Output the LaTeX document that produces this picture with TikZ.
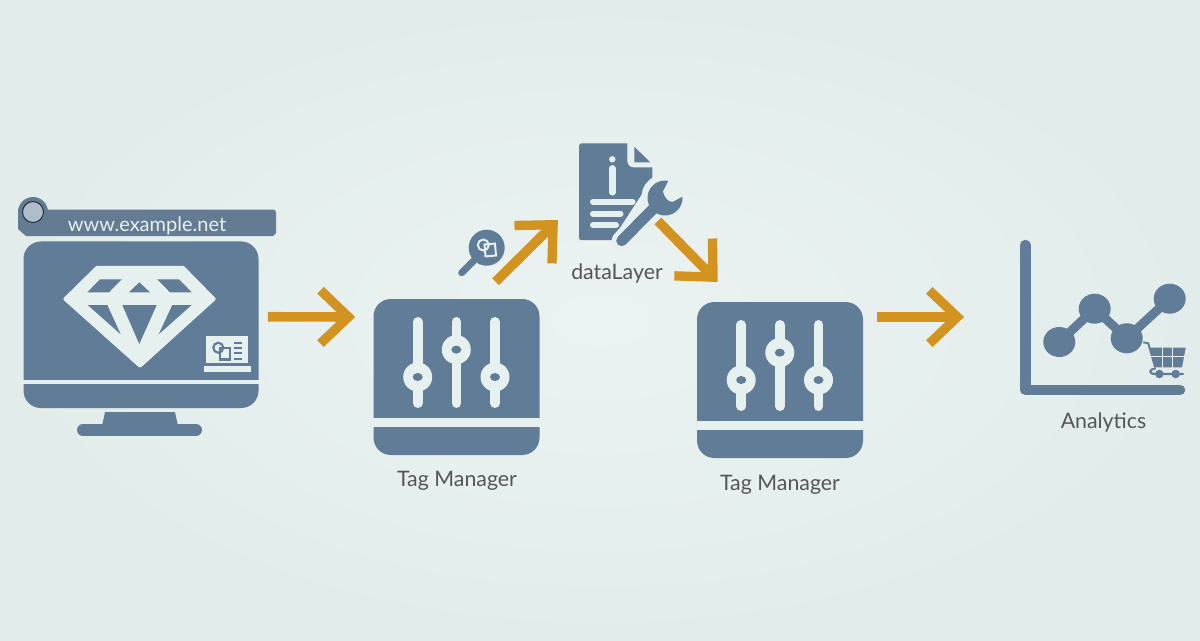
\documentclass[tikz,border=0pt]{standalone}
\usepackage{fontspec}
\setmainfont{Lato}
\usepackage{xcolor}
\usetikzlibrary{arrows.meta}

\definecolor{slate}{HTML}{607C96}
\definecolor{pale}{HTML}{E6F0EF}
\definecolor{amber}{HTML}{D29321}
\definecolor{labelgrey}{HTML}{555555}
\definecolor{bginner}{HTML}{EBF3F2}
\definecolor{bgouter}{HTML}{E2EDEB}

\tikzset{
  panel/.style={fill=slate,inner sep=0pt,rounded corners=13pt},
  flowarrow/.style={draw=amber,line width=7.2pt,-{Straight Barb[length=21pt,width=40pt,line width=7pt]}},
  caption/.style={text=labelgrey,font=\fontsize{16}{18}\selectfont,inner sep=0.75pt},
  tagmanager/.pic={
    \foreach \sx/\sy in {-38.8/0,-0.2/27.4,38.5/0} {
      \draw [pale,line width=7.2pt,line cap=round] (\sx,55.2) -- (\sx,-26.2);
      \fill [pale] (\sx,\sy) circle (14.5);
      \fill [slate] (\sx,\sy) ellipse (5 and 4);
    }
    \fill [pale] (-84,-40.5) rectangle (84,-50);
  }
}

\begin{document}
\begin{tikzpicture}[x=0.75pt,y=0.75pt,yscale=-1,xscale=1]

% backdrop
\shade [inner color=bginner,outer color=bgouter] (0,0) rectangle (1200,640);

% site
\fill [slate!88!gray] (18,209.5) -- (274,209.5) to[out=0,in=90] (276,212) -- (276,233) -- (273,236) -- (26,236) -- (18,229) -- cycle;
\fill [slate!88!gray] (33,212) circle (15);
\draw [fill=slate!50!white,draw=slate!40!black,line width=0.8pt] (33,212) circle (10.5);
\node [text=pale,font=\fontsize{15}{18}\selectfont,inner sep=0.75pt] (siteurl) at (147,225.5) {www.example.net};

\node [panel,minimum width=176.25pt,minimum height=124.9pt] (screen) at (141,324.75) {};
\fill [pale] (20,380) rectangle (262,383.5);
\fill [slate] (105,412) -- (175,412) -- (178,426) -- (102,426) -- cycle;
\draw [slate,line width=9pt,line cap=round] (83,430) -- (196,430);

\draw [fill=pale,draw=pale,line width=2.5pt,line join=round] (97,267.5) -- (183,267.5) -- (214,299) -- (140,366) -- (65,299) -- cycle;
\fill [slate] (87.3,292.3) -- (100,279.3) -- (121.7,279.3) -- (109,292.3) -- cycle;
\fill [slate] (129,292.3) -- (139.3,282.3) -- (150,292.3) -- cycle;
\fill [slate] (157.3,279.3) -- (179,279.3) -- (191.7,292.3) -- (170,292.3) -- cycle;
\fill [slate] (87.7,305) -- (107.3,305) -- (120.7,334.3) -- cycle;
\fill [slate] (122.3,305) -- (156.7,305) -- (139.3,344) -- cycle;
\fill [slate] (172.3,305) -- (191.7,305) -- (158.7,334.3) -- cycle;

\fill [pale] (206,336) rectangle (247.7,363.3);
\fill [pale] (203.7,366.3) rectangle (250.7,371.7);
\draw [slate,line width=1.6pt] (218.3,347.7) circle (5);
\draw [slate,line width=1.6pt] (220,348) rectangle (230,359.5);
\foreach \ly in {342.7,347.7,353.3,359} {
  \draw [slate,line width=1.6pt] (234.3,\ly) -- (242.3,\ly);
}

% tag managers
\node [panel,minimum width=124.5pt,minimum height=117pt] (tagone) at (456.5,377) {};
\pic at (456.5,377) {tagmanager};
\node [panel,minimum width=124.5pt,minimum height=117pt] (tagtwo) at (780,380) {};
\pic at (780,380) {tagmanager};

\node [caption] (tagonelabel) at (457,481) {Tag Manager};
\node [caption] (tagtwolabel) at (780,485) {Tag Manager};

% lens
\node [circle,fill=slate,minimum size=27pt,inner sep=0pt] (lens) at (486.7,247.7) {};
\draw [slate,line width=5.2pt,line cap=round] (461.7,272.7) -- (lens);
\draw [pale,line width=1.5pt] (483.3,245) circle (5.5);
\draw [pale,line width=1.5pt,rotate around={-5:(490,250)}] (485,244) rectangle (495.5,256);

% data layer sheet
\fill [slate] (581,143.3) -- (627.3,143.3) -- (627.3,161) to[out=90,in=180] (633,167.3) -- (652.3,167.3) -- (652.3,178) -- (612,240) -- (581,240) to[out=180,in=90] (579,238) -- (579,145.3) to[out=90,in=180] (581,143.3) -- cycle;
\fill [slate] (634.3,146.7) -- (650.3,162.3) -- (634.3,162.3) -- cycle;
\fill [pale] (612.3,159.3) circle (3.2);
\draw [pale,line width=4.8pt,line cap=round] (612.3,168.3) -- (612.3,192.3);
\draw [pale,line width=4.5pt,line cap=round] (593,201.7) -- (632.5,201.7);
\draw [pale,line width=4.5pt,line cap=round] (593,213.7) -- (620.5,213.7);
\draw [pale,line width=4.5pt,line cap=round] (593,225.3) -- (616,225.3);

\draw [pale,line width=15pt,line cap=round] (621.7,240.7) -- (655,207);
\fill [pale] (664,197) circle (22.5);
\draw [slate,line width=8.2pt,line cap=round] (621.7,240.7) -- (655,207);
\fill [slate] (665,198) circle (17.5);
\fill [pale] (668,176) -- (690,194) -- (682,196.7) -- (673,201.7) .. controls (669,202) and (666,200) .. (663,191.7) -- (668,181.7) -- cycle;
\node [inner sep=0pt,minimum size=1pt] (sheet) at (617,192) {};
\node [caption] (sheetlabel) at (617,273) {dataLayer};

% chart
\draw [slate,line width=7.9pt,line cap=round,line join=round] (1025.3,245) -- (1025.3,390) -- (1180,390);
\draw [slate,line width=6.8pt] (1059.3,342) -- (1094.7,308.7) -- (1126.7,338.3) -- (1169.7,298.7);
\foreach \cx/\cy in {1059.3/342,1094.7/308.7,1126.7/338.3,1169.7/298.7} {
  \fill [slate] (\cx,\cy) ellipse (16 and 15);
}
\draw [slate,line width=1.4pt] (1143.3,342.3) -- (1148.3,343.3) -- (1155,367.3);
\fill [slate] (1150,347.7) -- (1185.7,347.7) -- (1182,367.3) -- (1155,367.3) -- cycle;
\draw [pale,line width=1pt] (1162.3,346) -- (1162.3,369) (1172.3,346) -- (1172.3,369) (1149,356.7) -- (1186,356.7);
\draw [slate,line width=1.6pt,line cap=round] (1155,368.5) .. controls (1149,369) and (1149,374) .. (1154,374) -- (1183,374);
\fill [slate] (1159.3,374) circle (4.3);
\fill [slate] (1175.7,374) circle (4.3);
\node [inner sep=0pt,minimum size=1pt] (chart) at (1100,320) {};
\node [caption] (chartlabel) at (1103.5,422) {Analytics};

% flow
\draw [flowarrow] ([shift={(9,-8)}]screen.east) -- ([shift={(-18,-60)}]tagone.west);
\draw [flowarrow] ([shift={(-9.4,34)}]lens.east) -- ([shift={(-60,28)}]sheet.east);
\draw [flowarrow] ([shift={(40,29)}]sheet.east) -- ([shift={(21,-98)}]tagtwo.west);
\draw [flowarrow] ([shift={(14,-63)}]tagtwo.east) -- ([shift={(-135,-3)}]chart.west);

\end{tikzpicture}
\end{document}
